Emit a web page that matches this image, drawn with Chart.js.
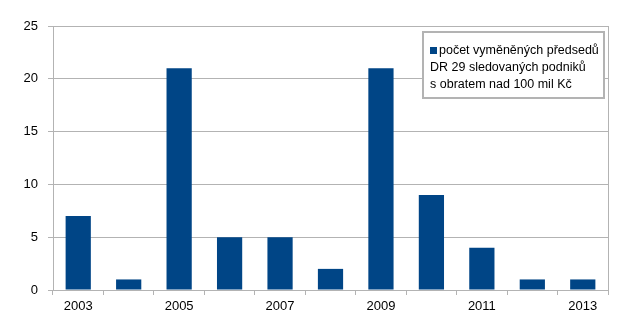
<!DOCTYPE html>
<html><head><meta charset="utf-8">
<script src="https://cdn.jsdelivr.net/npm/chart.js@4"></script>
<style>html,body{margin:0;padding:0;background:#fff}#w{width:642px;height:335px}</style>
</head><body><div id="w"><canvas id="c" width="642" height="335"></canvas></div>
<script>
const years = ['2003','2004','2005','2006','2007','2008','2009','2010','2011','2012','2013'];
const counts = [7, 1, 21, 5, 5, 2, 21, 9, 4, 1, 1];
const yTicks = [0, 5, 10, 15, 20, 25];
const legendLines = ['počet vyměněných předsedů', 'DR 29 sledovaných podniků', 's obratem nad 100 mil Kč'];

const FONT = '"Liberation Sans", Arial, sans-serif';
const BAR = '#004586';
const GRID = '#b3b3b3';

const legendPlugin = {
  id: 'boxLegend',
  afterDraw(chart) {
    const ctx = chart.ctx;
    ctx.save();
    const x = 423, y = 32, w = 181, h = 66;
    ctx.fillStyle = '#fff';
    ctx.fillRect(x, y, w, h);
    ctx.strokeStyle = '#b3b3b3';
    ctx.lineWidth = 2;
    ctx.strokeRect(x, y, w, h);
    ctx.fillStyle = BAR;
    ctx.fillRect(430, 47, 7, 7);
    ctx.fillStyle = '#000';
    ctx.font = '12.5px ' + FONT;
    ctx.textBaseline = 'middle';
    ctx.textAlign = 'left';
    legendLines.forEach((t, i) => ctx.fillText(t, i === 0 ? 439 : 430, 51 + i * 17));
    ctx.restore();
  }
};

new Chart(document.getElementById('c'), {
  type: 'bar',
  data: { labels: years, datasets: [{ label: legendLines.join(' '), data: counts, backgroundColor: BAR, barPercentage: 0.5, categoryPercentage: 1.0 }] },
  options: {
    responsive: false, animation: false,
    layout: { padding: { left: 0, right: 34, top: 26, bottom: 0 } },
    plugins: { legend: { display: false }, tooltip: { enabled: false } },
    scales: {
      x: {
        grid: { drawOnChartArea: false, drawTicks: true, tickLength: 5, color: GRID, offset: true },
        border: { color: GRID, width: 1 },
        ticks: { color: '#000', font: { family: FONT, size: 13 }, padding: 4, maxRotation: 0, autoSkip: false,
          callback: (v, i) => (i % 2 === 0 ? years[i] : '') },
        afterFit: s => { s.height = 45; }
      },
      y: {
        min: 0, max: 25,
        afterBuildTicks: s => { s.ticks = yTicks.map(v => ({ value: v })); },
        grid: { color: GRID, tickLength: 5 },
        border: { color: GRID, width: 1 },
        ticks: { color: '#000', font: { family: FONT, size: 13 }, padding: 10 },
        afterFit: s => { s.width = 53; }
      },
      y2: {
        position: 'right', min: 0, max: 25,
        grid: { drawOnChartArea: false, drawTicks: false },
        border: { color: GRID, width: 1 },
        ticks: { display: false },
        afterFit: s => { s.width = 0; }
      }
    }
  },
  plugins: [legendPlugin]
});
</script></body></html>
